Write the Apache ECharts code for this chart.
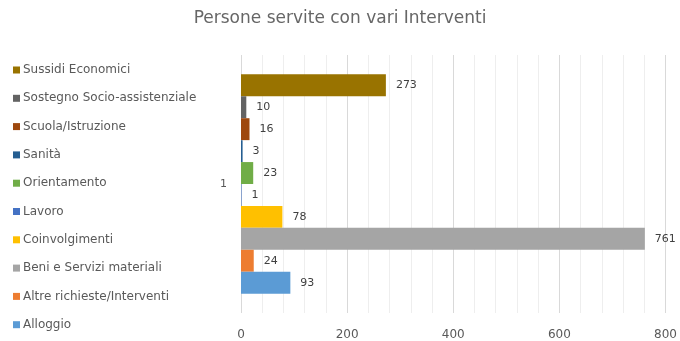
<!DOCTYPE html>
<html>
<head>
<meta charset="utf-8">
<script src="https://cdn.jsdelivr.net/npm/echarts@6/dist/echarts.min.js"></script>
<style>
  html, body { margin: 0; padding: 0; background: #fff; }
  #chart { width: 680px; height: 341px; }
</style>
</head>
<body>
<div id="chart"></div>
<script>
// Single category; each intervention type is its own series (first series drawn at the top)
const categories = ['1'];
const seriesNames = [
  'Sussidi Economici',
  'Sostegno Socio-assistenziale',
  'Scuola/Istruzione',
  'Sanità',
  'Orientamento',
  'Lavoro',
  'Coinvolgimenti',
  'Beni e Servizi materiali',
  'Altre richieste/Interventi',
  'Alloggio'
];
const seriesValues = [273, 10, 16, 3, 23, 1, 78, 761, 24, 93];
const seriesColors = ['#997300', '#636363', '#9E480E', '#255E91', '#70AD47',
                      '#4472C4', '#FFC000', '#A5A5A5', '#ED7D31', '#5B9BD5'];
const xTicks = [0, 200, 400, 600, 800];

const textColor = '#595959';
const fontFamily = 'DejaVu Sans';

const chart = echarts.init(document.getElementById('chart'));

chart.setOption({
  animation: false,
  backgroundColor: '#ffffff',
  textStyle: { fontFamily: fontFamily },
  title: {
    text: 'Persone servite con vari Interventi',
    left: 'center',
    top: 5,
    textStyle: { fontFamily: fontFamily, fontSize: 17, fontWeight: 'normal', color: '#666666' }
  },
  legend: {
    orient: 'vertical',
    left: 8,
    top: 59,
    itemWidth: 7,
    itemHeight: 7,
    itemGap: 16.3,
    icon: 'rect',
    data: seriesNames,
    textStyle: { fontFamily: fontFamily, fontSize: 12, color: textColor, padding: [0, 0, 0, -2] }
  },
  grid: { left: 241, right: 9, top: 55, bottom: 23, containLabel: false },
  xAxis: {
    type: 'value',
    min: xTicks[0],
    max: xTicks[xTicks.length - 1],
    interval: 200,
    axisLine: { show: false },
    axisTick: { show: false },
    axisLabel: { color: textColor, fontSize: 12, margin: 16 },
    splitLine: { show: true, lineStyle: { color: '#D9D9D9', width: 1 } },
    minorTick: { show: false, splitNumber: 5 },
    minorSplitLine: { show: true, lineStyle: { color: '#EEEEEE', width: 1 } }
  },
  yAxis: {
    type: 'category',
    data: categories,
    inverse: true,
    axisLine: { show: false },
    axisTick: { show: false },
    axisLabel: { color: textColor, fontSize: 11, margin: 14 }
  },
  series: seriesNames.map((name, i) => ({
    name: name,
    type: 'bar',
    data: [seriesValues[i]],
    barGap: '0%',
    barCategoryGap: '15%',
    itemStyle: { color: seriesColors[i] },
    label: {
      show: true,
      position: 'right',
      distance: 10,
      color: '#404040',
      fontSize: 11,
      fontFamily: fontFamily
    }
  }))
});
</script>
</body>
</html>
